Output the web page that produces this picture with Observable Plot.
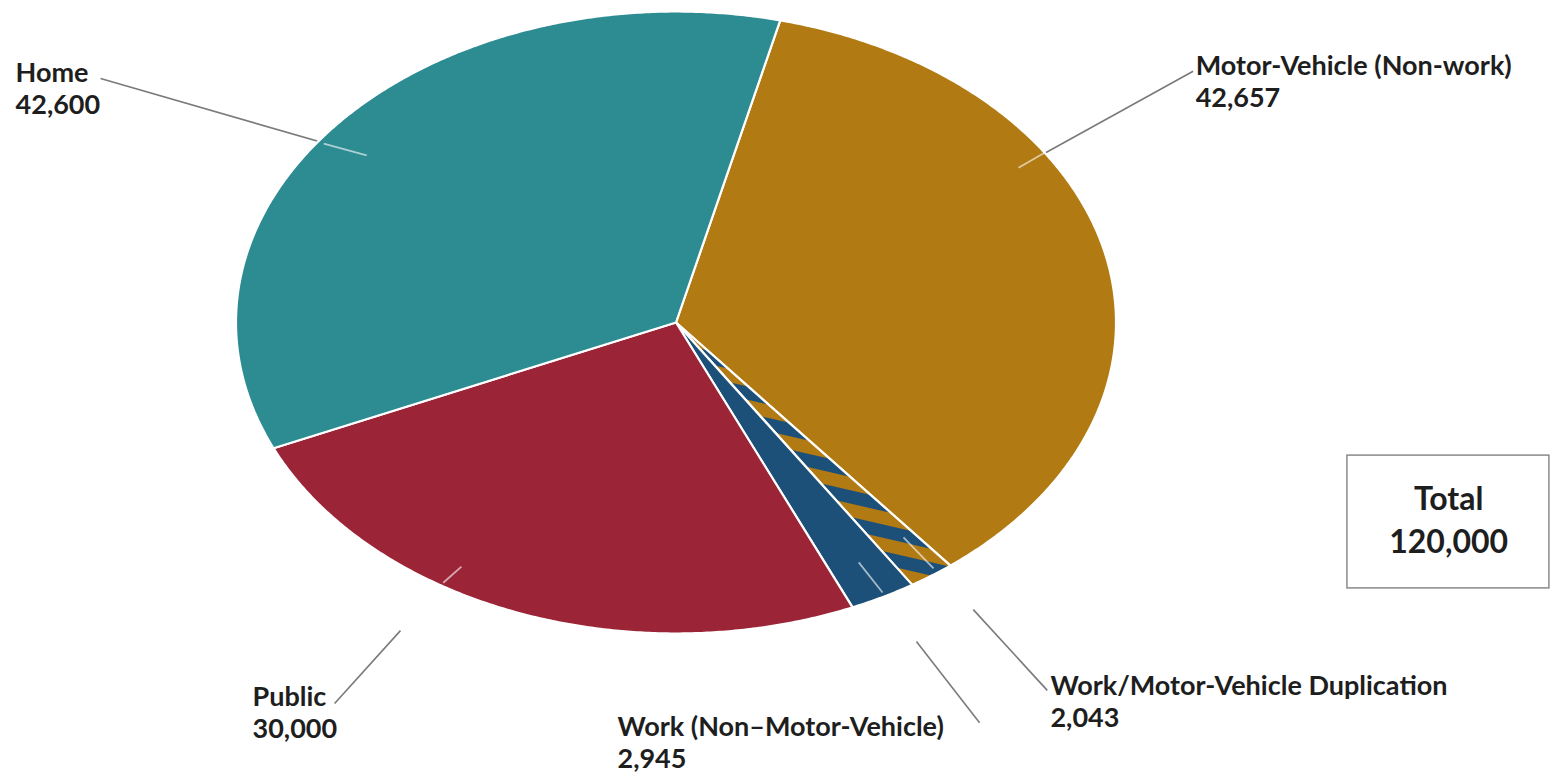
<!DOCTYPE html>
<html><head><meta charset="utf-8">
<script src="https://cdn.jsdelivr.net/npm/d3@7"></script>
<script src="https://cdn.jsdelivr.net/npm/@observablehq/plot@0.6"></script>
<style>body{margin:0;background:#fff;} #chart svg{display:block;}</style>
</head><body><div id="chart"></div>
<script>
// ---- data ----
const categories = ["Motor-Vehicle (Non-work)", "Work/Motor-Vehicle Duplication", "Work (Non–Motor-Vehicle)", "Public", "Home"];
const values = [42657, 2043, 2945, 30000, 42600];
const valueLabels = ["42,657", "2,043", "2,945", "30,000", "42,600"];
const totalTitle = "Total";
const totalLabel = "120,000";
const sliceColors = ["#b27a12", "url(#dupHatch)", "#1c5078", "#9b2537", "#2d8b92"];

// ---- layout (unit-ellipse coordinates / polar degrees) ----
const deg = Math.PI / 180;
const startAngle = 13.7 * deg;
const labelPos = [
  {x: 1.181, y: 0.854}, {x: 0.851, y: -1.140}, {x: -0.133, y: -1.272},
  {x: -0.9625, y: -1.175}, {x: -1.501, y: 0.831}
];
const leaderOuter = [
  [[55.5, 1.426], [57.4, 0.924]],
  [[144.5, 1.453], [143.8, 1.144]],
  [[151.8, 1.46], [151.95, 1.162]],
  [[212.35, 1.45], [212.3, 1.172]],
  [[300.96, 1.525], [307.4, 0.885]]
];
const leaderInner = [
  [[56.9, 1.0], [57.4, 0.924]],
  [[143.5, 0.984], [143.2, 0.863]],
  [[151.6, 0.987], [151.7, 0.876]],
  [[212.3, 0.99], [211.85, 0.924]],
  [[305.7, 0.986], [307.4, 0.885]]
];
const totalBox = {x1: 1.526, x2: 1.985, y1: -0.428, y2: -0.855, tx: 1.756, ty: -0.534};

const polar = (aDeg, r) => [r * Math.sin(aDeg * deg), r * Math.cos(aDeg * deg)];

// ---- build slice polygons from d3.pie ----
const arcs = d3.pie().sort(null).startAngle(startAngle).endAngle(startAngle + 2 * Math.PI)(values);
const slicePts = [];
arcs.forEach((a, i) => {
  slicePts.push({key: categories[i], fill: sliceColors[i], x: 0, y: 0});
  const n = Math.max(4, Math.ceil((a.endAngle - a.startAngle) / (0.4 * deg)));
  for (let k = 0; k <= n; k++) {
    const t = a.startAngle + (a.endAngle - a.startAngle) * k / n;
    slicePts.push({key: categories[i], fill: sliceColors[i], x: Math.sin(t), y: Math.cos(t)});
  }
});

const toSeg = (arr) => arr.map((s, i) => {
  const p1 = polar(s[0][0], s[0][1]), p2 = polar(s[1][0], s[1][1]);
  return {key: categories[i], x1: p1[0], y1: p1[1], x2: p2[0], y2: p2[1]};
});
const outerSegs = toSeg(leaderOuter);
const innerSegs = toSeg(leaderInner);
const labels = categories.map((c, i) => ({text: c + "\n" + valueLabels[i], x: labelPos[i].x, y: labelPos[i].y}));

const svg = Plot.plot({
  width: 1554, height: 776,
  margin: 0,
  x: {domain: [-1, 1], range: [235.5, 1115.5], axis: null},
  y: {domain: [-1, 1], range: [633, 11], axis: null},
  color: {type: "identity"},
  style: {background: "#fff"},
  marks: [
    Plot.link(outerSegs, {x1: "x1", y1: "y1", x2: "x2", y2: "y2", stroke: "#7a7a7a", strokeWidth: 1.6}),
    Plot.line(slicePts, {x: "x", y: "y", z: "key", fill: "fill", stroke: "#fff", strokeWidth: 2.2, curve: "linear-closed", strokeLinejoin: "round"}),
    Plot.link(innerSegs, {x1: "x1", y1: "y1", x2: "x2", y2: "y2", stroke: "#fff", strokeOpacity: 0.6, strokeWidth: 1.8}),
    Plot.text(labels, {x: "x", y: "y", text: "text", textAnchor: "start", lineAnchor: "top", lineHeight: 1.19, dy: -5,
      fontFamily: "Lato", fontWeight: "bold", fontSize: 27, fill: "#1e1e1e"}),
    Plot.rect([totalBox], {x1: d => d.x1, x2: d => d.x2, y1: d => d.y1, y2: d => d.y2, fill: "none", stroke: "#8a8a8a", strokeWidth: 1.5}),
    Plot.text([totalBox], {x: d => d.tx, y: d => d.ty, text: () => totalTitle + "\n" + totalLabel, textAnchor: "middle", lineAnchor: "top", lineHeight: 1.35, dy: -9,
      fontFamily: "Lato", fontWeight: "bold", fontSize: 32, fill: "#1e1e1e", letterSpacing: "1px"})
  ]
});

const defs = d3.select(svg).insert("defs", ":first-child");
const pat = defs.append("pattern").attr("id", "dupHatch").attr("patternUnits", "userSpaceOnUse")
  .attr("width", 26).attr("height", 26).attr("patternTransform", "rotate(13)");
pat.append("rect").attr("width", 26).attr("height", 26).attr("fill", sliceColors[0]);
pat.append("rect").attr("width", 26).attr("height", 13).attr("fill", sliceColors[2]);

document.getElementById("chart").appendChild(svg);
</script>
</body></html>
